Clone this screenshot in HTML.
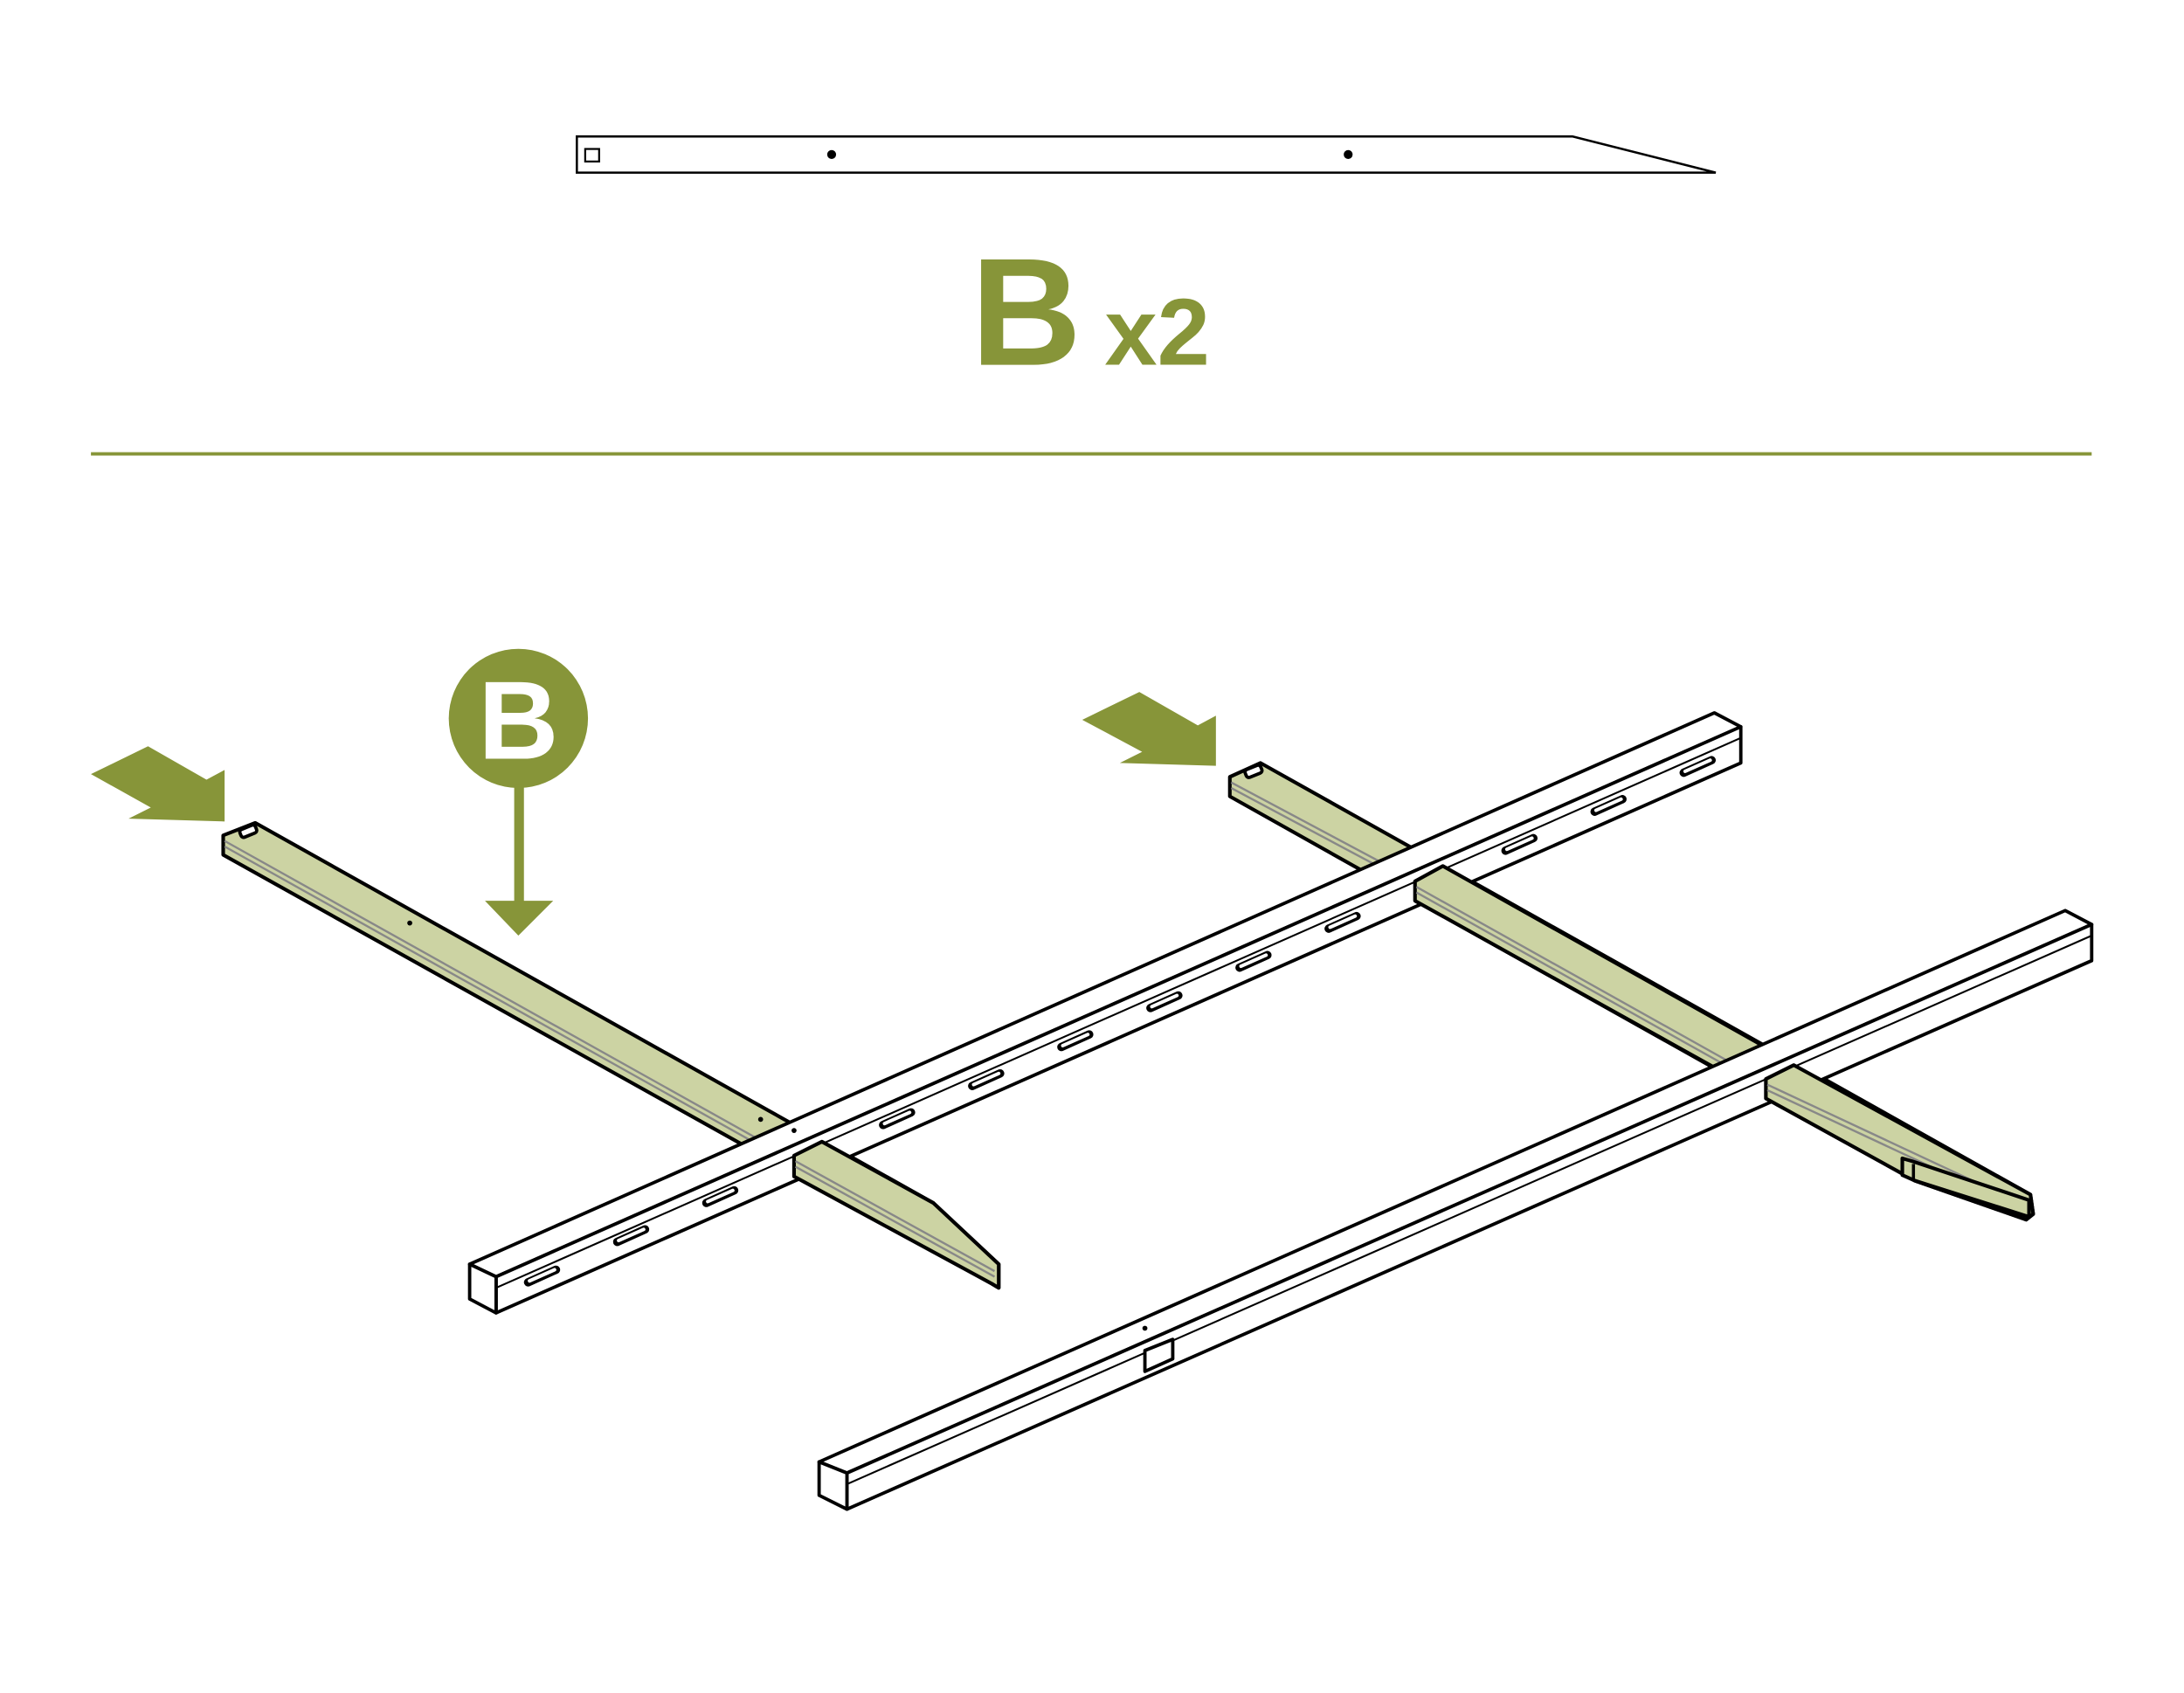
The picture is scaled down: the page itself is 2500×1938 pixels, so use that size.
<!DOCTYPE html>
<html><head><meta charset="utf-8"><style>html,body{margin:0;padding:0;background:#fff}svg{display:block}</style></head>
<body>
<svg width="2500" height="1938" viewBox="0 0 1568 1216" xmlns="http://www.w3.org/2000/svg">
<rect width="1568" height="1216" fill="#fff"/>
<path d="M414,98 L1129,98 L1232,124 L414,124 Z" fill="#fff" stroke="#000" stroke-width="1.6"/>
<rect x="420" y="107" width="10" height="9" fill="none" stroke="#000" stroke-width="1.4"/>
<circle cx="597" cy="111" r="3.2" fill="#000"/>
<circle cx="968" cy="111" r="3.2" fill="#000"/>
<text x="697" y="262" font-family="Liberation Sans, sans-serif" font-weight="bold" font-size="110" fill="#879539">B</text>
<text x="793" y="262" font-family="Liberation Sans, sans-serif" font-weight="bold" font-size="68" fill="#879539">x2</text>
<line x1="65" y1="326" x2="1502" y2="326" stroke="#879539" stroke-width="2.5"/>

<polygon points="65,556 106,536 148,560 161,553 161,590 92,588 108,580" fill="#879539"/>
<polygon points="777,517 818,497 860,521 873,514 873,550 804,548 820,540" fill="#879539"/>
<circle cx="372" cy="516" r="50" fill="#879539"/>
<text x="372" y="545" text-anchor="middle" font-family="Liberation Sans, sans-serif" font-weight="bold" font-size="80" fill="#fff">B</text>
<rect x="369" y="564" width="7" height="86" fill="#879539"/>
<polygon points="348,647 397,647 372,672" fill="#879539"/>

<!-- beam 1 -->
<polygon points="160,600 183,591 670,864 717,908 717,925 712,922 160,614" fill="#ccd3a3" stroke="#000" stroke-width="2.6" stroke-linejoin="round"/>
<line x1="161" y1="604" x2="714" y2="913" stroke="#888" stroke-width="1.5"/>
<line x1="161" y1="608" x2="714" y2="917" stroke="#888" stroke-width="1.5"/>
<rect x="172" y="594" width="12" height="6" rx="2" fill="#fff" stroke="#000" stroke-width="2.4" transform="rotate(-22 178 597)"/>
<circle cx="294" cy="663" r="1.8" fill="#000"/>
<circle cx="546" cy="804" r="1.8" fill="#000"/>
<!-- beam 2 -->
<polygon points="883,558 905,548 1458,858 1460,872 1455,876 1375,848 883,572" fill="#ccd3a3" stroke="#000" stroke-width="2.6" stroke-linejoin="round"/>
<line x1="884" y1="562" x2="1455" y2="866" stroke="#888" stroke-width="1.5"/>
<line x1="884" y1="566" x2="1455" y2="870" stroke="#888" stroke-width="1.5"/>
<rect x="894" y="551" width="12" height="6" rx="2" fill="#fff" stroke="#000" stroke-width="2.4" transform="rotate(-22 900 554)"/>
<circle cx="1016" cy="615" r="1.8" fill="#000"/>
<circle cx="1268" cy="756" r="1.8" fill="#000"/>

<!-- rail 1 -->
<polygon points="337,908 1231,512 1250,522 356,917" fill="#fff" stroke="#000" stroke-width="2.4" stroke-linejoin="round"/>
<polygon points="356,917 1250,522 1250,548 356,943" fill="#fff" stroke="#000" stroke-width="2.4" stroke-linejoin="round"/>
<line x1="356" y1="925" x2="1250" y2="530" stroke="#000" stroke-width="1.3"/>
<polygon points="337,908 356,917 356,943 337,933" fill="#fff" stroke="#000" stroke-width="2.4" stroke-linejoin="round"/>
<circle cx="570" cy="812" r="1.8" fill="#000"/>
<g stroke="#000" stroke-width="6" stroke-linecap="round">
<line x1="379" y1="921" x2="399" y2="912"/><line x1="443" y1="892" x2="463" y2="883"/><line x1="507" y1="864" x2="527" y2="855"/>
<line x1="634" y1="808" x2="654" y2="799"/><line x1="698" y1="780" x2="718" y2="771"/><line x1="762" y1="752" x2="782" y2="743"/>
<line x1="826" y1="724" x2="846" y2="715"/><line x1="890" y1="695" x2="910" y2="686"/><line x1="954" y1="667" x2="974" y2="658"/>
<line x1="1081" y1="611" x2="1101" y2="602"/><line x1="1145" y1="583" x2="1165" y2="574"/><line x1="1209" y1="555" x2="1229" y2="546"/>
</g>
<g stroke="#fff" stroke-width="2.5" stroke-linecap="round">
<line x1="380" y1="920" x2="398" y2="912"/><line x1="444" y1="891" x2="462" y2="883"/><line x1="508" y1="863" x2="526" y2="855"/>
<line x1="635" y1="807" x2="653" y2="799"/><line x1="699" y1="779" x2="717" y2="771"/><line x1="763" y1="751" x2="781" y2="743"/>
<line x1="827" y1="723" x2="845" y2="715"/><line x1="891" y1="694" x2="909" y2="686"/><line x1="955" y1="666" x2="973" y2="658"/>
<line x1="1082" y1="610" x2="1100" y2="602"/><line x1="1146" y1="582" x2="1164" y2="574"/><line x1="1210" y1="554" x2="1228" y2="546"/>
</g>
<!-- beam 1 segment in front of rail 1 -->
<polygon points="570,830 590,820 670,864 717,908 717,925 712,922 570,845" fill="#ccd3a3" stroke="#000" stroke-width="2.6" stroke-linejoin="round"/>
<line x1="571" y1="834" x2="714" y2="913" stroke="#888" stroke-width="1.5"/>
<line x1="571" y1="838" x2="714" y2="917" stroke="#888" stroke-width="1.5"/>
<!-- beam 2 segment between rails -->
<polygon points="1016,633 1036,622 1280,759 1280,794 1016,647" fill="#ccd3a3" stroke="#000" stroke-width="2.6" stroke-linejoin="round"/>
<line x1="1017" y1="637" x2="1280" y2="784" stroke="#888" stroke-width="1.5"/>
<line x1="1017" y1="641" x2="1280" y2="788" stroke="#888" stroke-width="1.5"/>

<!-- rail 2 -->
<polygon points="588,1050 1483,654 1502,664 608,1058" fill="#fff" stroke="#000" stroke-width="2.4" stroke-linejoin="round"/>
<polygon points="608,1058 1502,664 1502,690 608,1084" fill="#fff" stroke="#000" stroke-width="2.4" stroke-linejoin="round"/>
<line x1="608" y1="1066" x2="1502" y2="672" stroke="#000" stroke-width="1.3"/>
<polygon points="588,1050 608,1058 608,1084 588,1074" fill="#fff" stroke="#000" stroke-width="2.4" stroke-linejoin="round"/>
<circle cx="822" cy="954" r="1.8" fill="#000"/>
<path d="M822,970 L842,962 L842,976 L822,985 Z" fill="#fff" stroke="#000" stroke-width="2.4" stroke-linejoin="round"/>
<!-- beam 2 segment in front of rail 2 -->
<polygon points="1268,775 1288,765 1458,858 1460,872 1455,876 1375,848 1268,789" fill="#ccd3a3" stroke="#000" stroke-width="2.6" stroke-linejoin="round"/>
<line x1="1269" y1="779" x2="1455" y2="866" stroke="#888" stroke-width="1.5"/>
<line x1="1269" y1="783" x2="1455" y2="870" stroke="#888" stroke-width="1.5"/>
<path d="M1366,832 L1373,834 L1457,862 L1457,874 L1375,848 L1366,844 Z" fill="#ccd3a3" stroke="#000" stroke-width="2.6" stroke-linejoin="round"/>
<line x1="1374" y1="836" x2="1374" y2="848" stroke="#000" stroke-width="2.2"/>
</svg>
</body></html>
